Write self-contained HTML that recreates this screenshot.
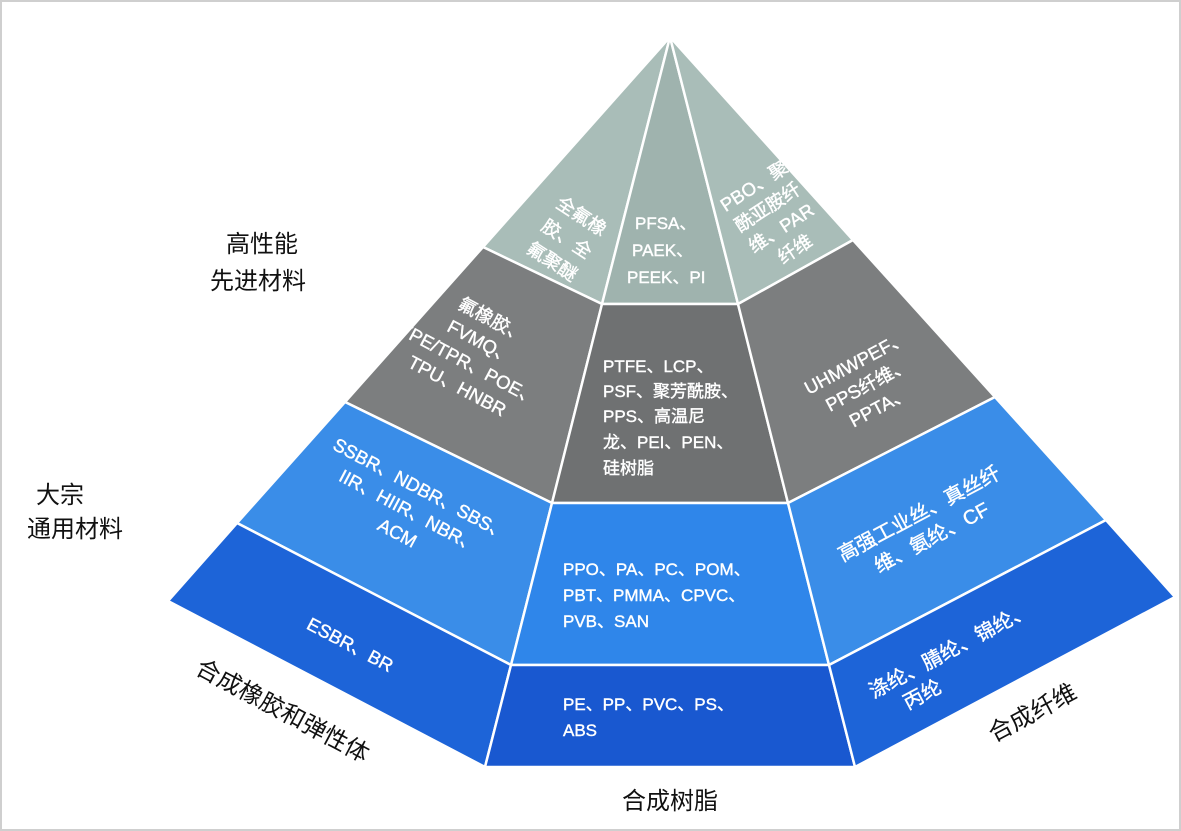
<!DOCTYPE html>
<html><head><meta charset="utf-8"><style>
html,body{margin:0;padding:0;background:#fff;}
svg{display:block;}
text{font-family:"Liberation Sans","Noto Sans CJK SC",sans-serif;}
.w{fill:#fff;font-size:17px;stroke:#fff;stroke-width:0.4;}
.L{font-size:18.5px;}
.b{fill:#111;font-size:24px;}
</style></head><body>
<svg width="1181" height="831" viewBox="0 0 1181 831" xmlns="http://www.w3.org/2000/svg">
<rect x="1" y="1" width="1179" height="829" fill="#fff" stroke="#cfcfcf" stroke-width="2"/>
<g stroke="#fff" stroke-width="2.5" stroke-linejoin="round">
<polygon points="670,37 483,247 602,304" fill="#a9bdb8"/>
<polygon points="670,37 602,304 738,304" fill="#9fb3ae"/>
<polygon points="670,37 738,304 853,240" fill="#a9bdb8"/>
<polygon points="483,247 602,304 552,503 345,402" fill="#7c7e7f"/>
<polygon points="602,304 738,304 788,503 552,503" fill="#6f7172"/>
<polygon points="738,304 853,240 995,397 788,503" fill="#7c7e7f"/>
<polygon points="345,402 552,503 511,665 237,523" fill="#3a8de8"/>
<polygon points="552,503 788,503 829,665 511,665" fill="#2f86ea"/>
<polygon points="788,503 995,397 1106,520 829,665" fill="#3a8de8"/>
<polygon points="237,523 511,665 485,767 168,601" fill="#1d64d8"/>
<polygon points="511,665 829,665 855,767 485,767" fill="#1958d0"/>
<polygon points="829,665 1106,520 1175,597 855,767" fill="#1d64d8"/>
</g>

<text class="b" x="262" y="252" text-anchor="middle">高性能</text>
<text class="b" x="258" y="289" text-anchor="middle">先进材料</text>
<text class="b" x="60" y="503" text-anchor="middle">大宗</text>
<text class="b" x="75" y="537" text-anchor="middle">通用材料</text>
<text class="b" x="670" y="809" text-anchor="middle">合成树脂</text>
<text class="b" transform="translate(283,710) rotate(28)" text-anchor="middle" dy="9">合成橡胶和弹性体</text>
<text class="b" transform="translate(1032,712) rotate(-28)" text-anchor="middle" dy="9">合成纤维</text>

<g class="w L" transform="translate(566,240) rotate(33)" text-anchor="middle">
<text x="0" y="-22">全氟橡</text><text x="0" y="5">胶、全</text><text x="0" y="32">氟聚醚</text></g>
<text class="w" x="635" y="229">PFSA、</text>
<text class="w" x="632" y="256">PAEK、</text>
<text class="w" x="627" y="283">PEEK、PI</text>
<g class="w L" transform="translate(776,220) rotate(-33)" text-anchor="middle">
<text x="0" y="-34">PBO、聚</text><text x="0" y="-9">酰亚胺纤</text><text x="0" y="16">维、PAR</text><text x="0" y="41">纤维</text></g>

<g class="w L" transform="translate(472,358) rotate(28)" text-anchor="middle">
<text x="0" y="-37">氟橡胶、</text><text x="0" y="-12">FVMQ、</text><text x="0" y="13">TPE/TPR、POE、</text><text x="0" y="38">TPU、HNBR</text></g>
<text class="w" x="603" y="372">PTFE、LCP、</text>
<text class="w" x="603" y="397">PSF、聚芳酰胺、</text>
<text class="w" x="603" y="422">PPS、高温尼</text>
<text class="w" x="603" y="448">龙、PEI、PEN、</text>
<text class="w" x="603" y="474">硅树脂</text>
<g class="w L" transform="translate(868,385) rotate(-28)" text-anchor="middle">
<text x="0" y="-19">UHMWPEF、</text><text x="0" y="6">PPS纤维、</text><text x="0" y="31">PPTA、</text></g>

<g class="w L" transform="translate(408,513) rotate(28)" text-anchor="middle">
<text x="0" y="-21">SSBR、NDBR、SBS、</text><text x="0" y="4">IIR、HIIR、NBR、</text><text x="0" y="29">ACM</text></g>
<text class="w" x="563" y="575">PPO、PA、PC、POM、</text>
<text class="w" x="563" y="601">PBT、PMMA、CPVC、</text>
<text class="w" x="563" y="627">PVB、SAN</text>
<g class="w" style="font-size:20px" transform="translate(925,525) rotate(-28)" text-anchor="middle">
<text x="0" y="-6">高强工业丝、真丝纤</text><text x="0" y="21">维、氨纶、CF</text></g>

<text class="w L" transform="translate(350,645) rotate(28)" text-anchor="middle" dy="6">ESBR、BR</text>
<text class="w" x="563" y="710">PE、PP、PVC、PS、</text>
<text class="w" x="563" y="736">ABS</text>
<g class="w" style="font-size:20px" transform="translate(955,660) rotate(-28)" text-anchor="middle">
<text x="0" y="-4">涤纶、腈纶、锦纶、</text><text x="-45" y="22">丙纶</text></g>
</svg>
</body></html>
